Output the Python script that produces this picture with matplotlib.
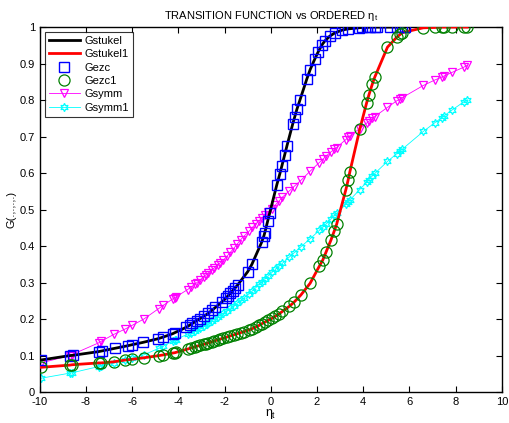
import matplotlib
matplotlib.use("Agg")
import matplotlib.pyplot as plt
from matplotlib.ticker import FixedLocator

plt.rcParams['font.family'] = ['Liberation Sans', 'DejaVu Sans']
plt.rcParams['axes.unicode_minus'] = False
plt.rcParams['mathtext.fontset'] = 'custom'
plt.rcParams['mathtext.rm'] = 'Liberation Sans'
plt.rcParams['mathtext.it'] = 'Liberation Sans'

# ---- data ----
x_sq = [-9.95, -8.7, -8.55, -7.45, -7.3, -6.75, -6.2, -6.0, -5.55, -4.9, -4.65, -4.25, -4.15,
        -3.65, -3.5, -3.4, -3.2, -3.07, -2.9, -2.7, -2.55, -2.4, -2.1, -1.95, -1.85, -1.75,
        -1.65, -1.55, -1.43, -1.0, -0.82, -0.4, -0.3, -0.26, -0.13, -0.05, 0.26, 0.39, 0.48,
        0.6, 0.7, 0.95, 1.04, 1.13, 1.26, 1.56, 1.7, 1.9, 2.05, 2.2, 2.34, 2.55, 2.77, 3.1,
        3.35, 3.8, 3.95, 4.15, 4.3, 4.5, 4.6, 5.15, 5.45, 5.67, 5.8]
g_stukel = [0.088, 0.100, 0.101, 0.111, 0.113, 0.120, 0.127, 0.130, 0.136, 0.146, 0.151, 0.160,
            0.163, 0.178, 0.184, 0.188, 0.196, 0.201, 0.208, 0.216, 0.224, 0.232, 0.248, 0.257,
            0.264, 0.271, 0.278, 0.285, 0.294, 0.330, 0.350, 0.410, 0.428, 0.437, 0.470, 0.490,
            0.568, 0.598, 0.620, 0.650, 0.675, 0.735, 0.755, 0.775, 0.800, 0.858, 0.883, 0.912,
            0.932, 0.950, 0.962, 0.975, 0.984, 0.992, 0.995, 0.998, 0.999, 0.999, 1.0, 1.0, 1.0,
            1.0, 1.0, 1.0, 1.0]
g_ezc = list(g_stukel)

x_ci = [-9.95, -8.7, -8.6, -7.45, -7.35, -6.8, -6.3, -6.0, -5.5, -4.85, -4.65, -4.25, -4.15,
        -4.1, -3.6, -3.45, -3.3, -3.2, -3.05, -2.9, -2.8, -2.7, -2.55, -2.45, -2.3, -2.2,
        -2.05, -1.9, -1.75, -1.6, -1.45, -1.3, -1.15, -0.95, -0.8, -0.65, -0.5, -0.4, -0.25,
        -0.1, 0.05, 0.2, 0.35, 0.5, 0.8, 1.0, 1.3, 1.7, 2.1, 2.25, 2.4, 2.6, 2.75, 2.85, 3.25,
        3.35, 3.42, 3.85, 4.15, 4.25, 4.4, 4.5, 5.05, 5.45, 5.6, 5.7, 6.6, 7.1, 7.4, 7.5,
        7.85, 8.35, 8.5]
g_stukel1 = [0.068, 0.074, 0.075, 0.080, 0.080, 0.083, 0.088, 0.090, 0.094, 0.100, 0.102,
             0.107, 0.108, 0.109, 0.118, 0.121, 0.124, 0.126, 0.128, 0.131, 0.133, 0.135,
             0.138, 0.140, 0.143, 0.145, 0.148, 0.151, 0.154, 0.157, 0.160, 0.163, 0.166,
             0.170, 0.174, 0.178, 0.183, 0.187, 0.192, 0.197, 0.202, 0.208, 0.214, 0.221,
             0.235, 0.246, 0.266, 0.298, 0.345, 0.362, 0.385, 0.416, 0.442, 0.460, 0.555,
             0.582, 0.603, 0.720, 0.793, 0.815, 0.845, 0.863, 0.945, 0.972, 0.980, 0.985,
             0.998, 0.999, 1.0, 1.0, 1.0, 1.0, 1.0]
g_ezc1 = list(g_stukel1)
g_symm = [0.080, 0.100, 0.103, 0.135, 0.139, 0.158, 0.173, 0.183, 0.200, 0.229, 0.238, 0.255,
          0.259, 0.261, 0.281, 0.288, 0.295, 0.300, 0.308, 0.316, 0.322, 0.327, 0.335, 0.340,
          0.348, 0.354, 0.362, 0.372, 0.383, 0.394, 0.406, 0.418, 0.428, 0.440, 0.451, 0.461,
          0.470, 0.476, 0.485, 0.494, 0.503, 0.513, 0.523, 0.534, 0.551, 0.563, 0.580, 0.605,
          0.629, 0.638, 0.647, 0.658, 0.665, 0.670, 0.692, 0.698, 0.702, 0.722, 0.737, 0.742,
          0.750, 0.755, 0.780, 0.798, 0.803, 0.807, 0.840, 0.855, 0.863, 0.866, 0.876, 0.890,
          0.895]
g_symm1 = [0.038, 0.052, 0.053, 0.070, 0.071, 0.079, 0.088, 0.093, 0.102, 0.120, 0.126, 0.140,
           0.142, 0.144, 0.159, 0.163, 0.168, 0.172, 0.177, 0.182, 0.186, 0.190, 0.196, 0.200,
           0.206, 0.210, 0.216, 0.223, 0.230, 0.237, 0.244, 0.251, 0.259, 0.269, 0.277, 0.286,
           0.296, 0.302, 0.311, 0.319, 0.328, 0.336, 0.345, 0.353, 0.370, 0.381, 0.398, 0.420,
           0.443, 0.452, 0.461, 0.474, 0.484, 0.490, 0.515, 0.522, 0.526, 0.555, 0.575, 0.582,
           0.593, 0.599, 0.632, 0.653, 0.661, 0.666, 0.714, 0.738, 0.752, 0.757, 0.773, 0.795,
           0.801]

x_ticks = [-10, -8, -6, -4, -2, 0, 2, 4, 6, 8, 10]
y_ticks = [0, 0.1, 0.2, 0.3, 0.4, 0.5, 0.6, 0.7, 0.8, 0.9, 1]
y_tick_labels = ['0', '0.1', '0.2', '0.3', '0.4', '0.5', '0.6', '0.7', '0.8', '0.9', '1']

# ---- figure ----
fig = plt.figure(figsize=(5.10, 4.23), dpi=100)
ax = fig.add_axes([0.078, 0.073, 0.906, 0.863])

ax.plot(x_sq, g_stukel, '-', color='black', lw=2.0, label='Gstukel', zorder=3)
ax.plot(x_ci, g_stukel1, '-', color='red', lw=2.0, label='Gstukel1', zorder=3)
ax.plot(x_sq, g_ezc, 's', color='none', mec='blue', mfc='none', ms=6.5, mew=1.0,
        label='Gezc', zorder=4)
ax.plot(x_ci, g_ezc1, 'o', color='none', mec='green', mfc='none', ms=8, mew=0.9,
        label='Gezc1', zorder=4)
ax.plot(x_ci, g_symm, '-v', color='magenta', lw=0.6, mec='magenta', mfc='none', ms=5.5,
        mew=0.9, label='Gsymm', zorder=2)
ax.plot(x_ci, g_symm1, '-', marker=(6, 1, 0), color='cyan', lw=0.6, mec='cyan', mfc='none',
        ms=6, mew=0.9, label='Gsymm1', zorder=2)

ax.set_xlim(-10, 10)
ax.set_ylim(0, 1)
ax.xaxis.set_major_locator(FixedLocator(x_ticks))
ax.set_yticks(y_ticks)
ax.set_yticklabels(y_tick_labels)
ax.tick_params(direction='in', length=4, width=0.8, labelsize=8, top=True, right=True,
               colors='black')
for s in ax.spines.values():
    s.set_linewidth(1.0)

ax.set_title(r'TRANSITION FUNCTION vs ORDERED $\eta_t$', fontsize=8, pad=6)
ax.set_xlabel(r'$\eta_t$', fontsize=9, labelpad=0)
ax.set_ylabel('G(.,.,.,.)', fontsize=8, labelpad=2)

leg = ax.legend(loc='upper left', fontsize=8, frameon=True, fancybox=False,
                edgecolor='black', borderpad=0.35, labelspacing=0.3, handlelength=2.8,
                handletextpad=0.4, borderaxespad=0.45)
leg.get_frame().set_linewidth(0.8)

fig.savefig('out.png', dpi=100)
